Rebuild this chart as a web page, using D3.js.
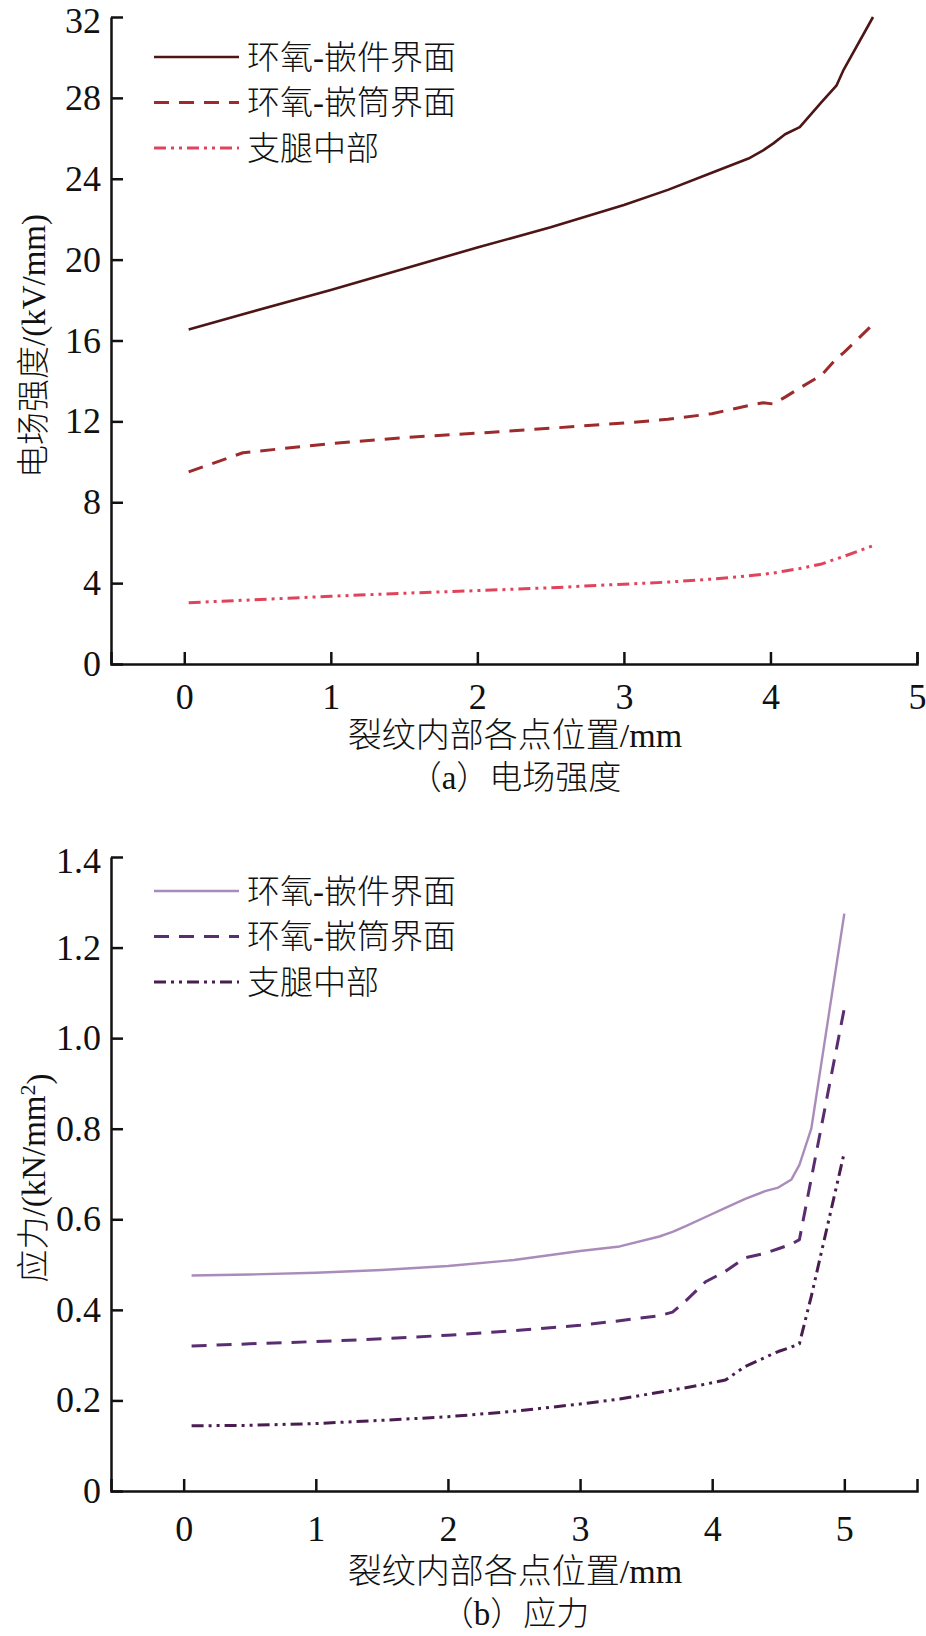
<!DOCTYPE html>
<html>
<head>
<meta charset="utf-8">
<script src="https://cdn.jsdelivr.net/npm/d3@7"></script>
<style>
  body { margin: 0; background: #fff; }
  text { font-family: "Liberation Serif", "Times New Roman", "Noto Sans CJK SC", serif; fill: #111; }
  .cjk { font-weight: 300; }
</style>
</head>
<body>
<svg id="fig" width="926" height="1636"></svg>
<script>
// (a) electric field, kV/mm
var xA = [0.03, 0.4, 1.0, 1.5, 2.0, 2.5, 3.0, 3.3, 3.6, 3.85, 3.95, 4.02, 4.1, 4.2, 4.35, 4.45, 4.5, 4.7];
var fieldInsert = [16.55, 17.3, 18.5, 19.55, 20.6, 21.6, 22.7, 23.45, 24.3, 25.0, 25.4, 25.75, 26.2, 26.55, 27.8, 28.6, 29.4, 32.0];
var fieldSleeve = [9.5, 10.45, 10.9, 11.2, 11.42, 11.66, 11.92, 12.1, 12.38, 12.78, 12.92, 12.86, 13.2, 13.65, 14.3, 15.1, 15.4, 16.8];
var fieldLeg = [3.03, 3.15, 3.35, 3.5, 3.63, 3.77, 3.95, 4.05, 4.2, 4.36, 4.44, 4.5, 4.6, 4.72, 4.95, 5.2, 5.32, 5.85];
var yTicksA = [0, 4, 8, 12, 16, 20, 24, 28, 32];

// (b) stress, kN/mm2
var xB = [0.06, 0.5, 1.0, 1.5, 2.0, 2.5, 3.0, 3.3, 3.6, 3.7, 3.8, 3.95, 4.1, 4.25, 4.4, 4.5, 4.6, 4.66, 4.75, 5.0];
var stressInsert = [0.476, 0.478, 0.482, 0.488, 0.497, 0.51, 0.53, 0.54, 0.562, 0.572, 0.585, 0.605, 0.625, 0.645, 0.662, 0.67, 0.688, 0.72, 0.80, 1.275];
var stressSleeve = [0.32, 0.325, 0.33, 0.336, 0.344, 0.354, 0.366, 0.376, 0.387, 0.395, 0.42, 0.462, 0.485, 0.515, 0.525, 0.535, 0.545, 0.555, 0.69, 1.066];
var stressLeg = [0.144, 0.145, 0.149, 0.156, 0.164, 0.176, 0.192, 0.203, 0.218, 0.223, 0.228, 0.236, 0.245, 0.275, 0.295, 0.308, 0.318, 0.325, 0.43, 0.748];
var yTicksB = [0, 0.2, 0.4, 0.6, 0.8, 1.0, 1.2, 1.4];

var xTicks = [0, 1, 2, 3, 4, 5];
var seriesNames = ["环氧-嵌件界面", "环氧-嵌筒界面", "支腿中部"];

var svg = d3.select("#fig");

function drawChart(o) {
  var x = d3.scaleLinear().domain(o.xDomain).range([111, 917]);
  var y = d3.scaleLinear().domain([0, o.yMax]).range([o.bottom, o.top]);
  var g = svg.append("g");

  var line = d3.line().x(function(d){ return x(d[0]); }).y(function(d){ return y(d[1]); });

  o.series.forEach(function(s){
    g.append("path")
      .datum(d3.zip(o.xs, s.values))
      .attr("fill", "none")
      .attr("stroke", s.color)
      .attr("stroke-width", s.width)
      .attr("stroke-dasharray", s.dash)
      .attr("stroke-linejoin", "round")
      .attr("d", line);
  });

  var xAxis = g.append("g")
    .attr("transform", "translate(0," + o.bottom + ")")
    .call(d3.axisBottom(x).tickValues(xTicks).tickSize(-12).tickSizeOuter(-12).tickPadding(o.xPad).tickFormat(d3.format("d")));
  var yAxis = g.append("g")
    .attr("transform", "translate(111,0)")
    .call(d3.axisLeft(y).tickValues(o.yTicks).tickSize(-12).tickSizeOuter(0).tickPadding(10).tickFormat(o.yFormat));

  [xAxis, yAxis].forEach(function(a){
    a.selectAll("path, line").attr("stroke", "#111").attr("stroke-width", 2.5);
    a.selectAll("text").style("font-size", "36px").attr("fill", "#111");
  });
  // keep the top tick label inside the page
  yAxis.selectAll(".tick text").filter(function(d){ return d === o.yMax; }).attr("dy", "0.42em");

  // legend
  var lg = g.append("g");
  o.series.forEach(function(s, i){
    var ly = o.legendY + i * 45.5;
    lg.append("line")
      .attr("x1", 154).attr("x2", 239).attr("y1", ly).attr("y2", ly)
      .attr("stroke", s.color).attr("stroke-width", s.width)
      .attr("stroke-dasharray", s.dash);
    lg.append("text")
      .attr("class", "cjk")
      .attr("x", 247).attr("y", ly).attr("dy", "0.36em")
      .style("font-size", "33px")
      .text(seriesNames[i]);
  });

  // axis titles
  g.append("text")
    .attr("class", "cjk")
    .attr("x", 515).attr("y", o.bottom + o.titleOff).attr("dy", "0.36em")
    .attr("text-anchor", "middle").style("font-size", "34px")
    .text("裂纹内部各点位置/mm");
  g.append("text")
    .attr("class", "cjk")
    .attr("x", 515).attr("y", o.bottom + o.titleOff + 42).attr("dy", "0.36em")
    .attr("text-anchor", "middle").style("font-size", "33px")
    .text(o.caption);

  var yt = g.append("text")
    .attr("class", "cjk")
    .attr("transform", "translate(33," + o.yTitleY + ") rotate(-90)")
    .attr("text-anchor", "middle").attr("dy", "0.36em")
    .style("font-size", "33px");
  o.yTitle(yt);
}

drawChart({
  xDomain: [-0.5, 5], yMax: 32, top: 17, bottom: 664,
  xs: xA, yTicks: yTicksA, yFormat: d3.format("d"), xPad: 19,
  titleOff: 71, caption: "（a）电场强度", yTitleY: 346, legendY: 57,
  series: [
    { values: fieldInsert, color: "#4d1515", width: 2.6, dash: null },
    { values: fieldSleeve, color: "#9e2b2b", width: 3, dash: "15,10" },
    { values: fieldLeg, color: "#e0445c", width: 3, dash: "12,5,3,5,3,5" }
  ],
  yTitle: function(t){ t.text("电场强度/(kV/mm)"); }
});

drawChart({
  xDomain: [-0.55, 5.55], yMax: 1.4, top: 857, bottom: 1491,
  xs: xB, yTicks: yTicksB, yFormat: function(d){ return d === 0 ? "0" : d3.format(".1f")(d); }, xPad: 24,
  titleOff: 80, caption: "（b）应力", yTitleY: 1178, legendY: 891,
  series: [
    { values: stressInsert, color: "#a98cba", width: 2.4, dash: null },
    { values: stressSleeve, color: "#5a2d70", width: 3, dash: "15,10" },
    { values: stressLeg, color: "#4a1d50", width: 3, dash: "12,5,3,5,3,5" }
  ],
  yTitle: function(t){
    t.append("tspan").text("应力/(kN/mm");
    t.append("tspan").attr("dy", "-0.45em").style("font-size", "22px").text("2");
    t.append("tspan").attr("dy", "0.45em").text(")");
  }
});
</script>
</body>
</html>
